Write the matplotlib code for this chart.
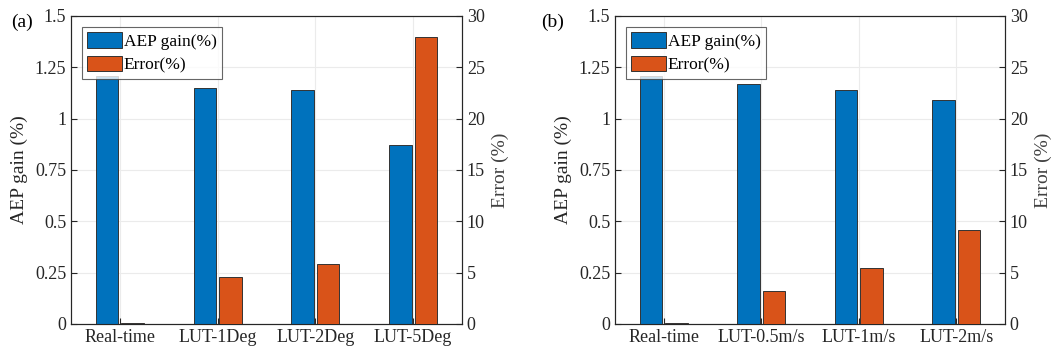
import matplotlib
matplotlib.use("Agg")
import matplotlib.pyplot as plt
import numpy as np

cats_a = ["Real-time", "LUT-1Deg", "LUT-2Deg", "LUT-5Deg"]
aep_a = [1.21, 1.15, 1.14, 0.87]
err_a = [0.05, 4.6, 5.8, 28.0]

cats_b = ["Real-time", "LUT-0.5m/s", "LUT-1m/s", "LUT-2m/s"]
aep_b = [1.21, 1.17, 1.14, 1.09]
err_b = [0.05, 3.2, 5.5, 9.2]

left_ticks = [0, 0.25, 0.5, 0.75, 1, 1.25, 1.5]
left_labels = ["0", "0.25", "0.5", "0.75", "1", "1.25", "1.5"]
right_ticks = [0, 5, 10, 15, 20, 25, 30]

BLUE = "#0072BD"
ORANGE = "#D95319"
plt.rcParams['font.family'] = ['Liberation Serif', 'DejaVu Serif']

fig = plt.figure(figsize=(10.53, 3.53), dpi=100)
W, H = 1053, 353

def panel(left_px, right_px, cats, aep, err, tag, tag_x):
    ax = fig.add_axes([left_px / W, (H - 324) / H, (right_px - left_px) / W, 308 / H])
    x = np.arange(1, len(cats) + 1)
    off, bw = 0.13, 0.23
    b1 = ax.bar(x - off, aep, width=bw, color=BLUE, edgecolor="#333333", linewidth=0.7, zorder=3, label="AEP gain(%)")
    ax.set_xlim(0.5, 4.5)
    ax.set_ylim(0, 1.5)
    ax.set_yticks(left_ticks)
    ax.set_yticklabels(left_labels)
    ax.set_xticks(x)
    ax.set_xticklabels(cats)
    ax.grid(True, color="#ebebeb", linewidth=0.8, zorder=0)
    ax.set_axisbelow(True)
    ax.tick_params(direction="in", labelsize=13, colors="#262626", length=4)
    ax.set_ylabel("AEP gain (%)", fontsize=14, color="#262626", labelpad=5)
    ax2 = ax.twinx()
    b2 = ax2.bar(x + off, err, width=bw, color=ORANGE, edgecolor="#333333", linewidth=0.7, zorder=3, label="Error(%)")
    ax2.set_ylim(0, 30)
    ax2.set_yticks(right_ticks)
    ax2.tick_params(direction="in", labelsize=13, colors="#262626", length=4)
    ax2.set_ylabel("Error (%)", fontsize=14, color="#404040", labelpad=5)
    for a in (ax, ax2):
        for s in a.spines.values():
            s.set_color("#262626")
            s.set_linewidth(0.8)
    leg = ax2.legend(handles=[b1, b2], loc="upper left", bbox_to_anchor=(0.028, 0.965),
                     fontsize=12.5, frameon=True, fancybox=False, edgecolor="#404040",
                     handlelength=2.0, handleheight=1.0, handletextpad=0.1,
                     borderpad=0.3, labelspacing=0.35, borderaxespad=0)
    leg.get_frame().set_linewidth(0.8)
    fig.text(tag_x / W, (H - 22) / H, tag, fontsize=14, va="center", ha="left")

panel(71, 462, cats_a, aep_a, err_a, "(a)", 11)
panel(615, 1005, cats_b, aep_b, err_b, "(b)", 541)

fig.savefig("out.png", dpi=100)
